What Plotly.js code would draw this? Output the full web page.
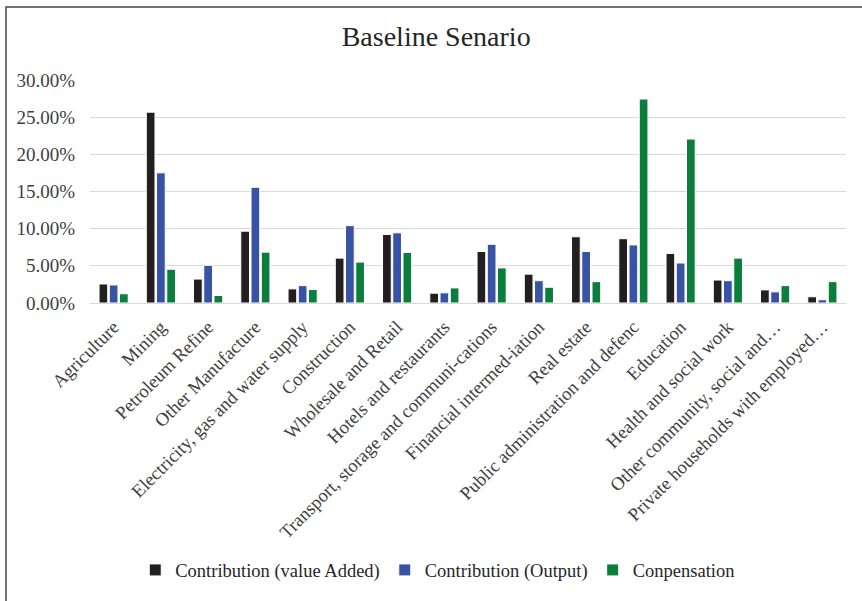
<!DOCTYPE html>
<html>
<head>
<meta charset="utf-8">
<script src="https://cdn.plot.ly/plotly-3.0.1.min.js"></script>
<style>html,body{margin:0;padding:0;background:#fff;}#chart{width:862px;height:601px;}</style>
</head>
<body>
<div id="chart"></div>
<script>
const categories = [
  "Agriculture", "Mining", "Petroleum Refine", "Other Manufacture",
  "Electricity, gas and water supply", "Construction", "Wholesale and Retail",
  "Hotels and restaurants", "Transport, storage and communi-cations",
  "Financial intermed-iation", "Real estate", "Public administration and defenc",
  "Education", "Health and social work", "Other community, social and\u2026",
  "Private households with employed\u2026"
];
const valueAdded = [2.56, 25.67, 3.22, 9.66, 1.90, 6.04, 9.22, 1.32, 6.93, 3.88, 8.91, 8.65, 6.66, 3.09, 1.76, 0.84];
const output     = [2.43, 17.51, 5.07, 15.57, 2.34, 10.41, 9.44, 1.37, 7.90, 3.00, 6.93, 7.81, 5.38, 3.00, 1.50, 0.44];
const compensation = [1.24, 4.54, 1.01, 6.84, 1.81, 5.51, 6.79, 2.03, 4.72, 2.12, 2.87, 27.44, 22.06, 6.04, 2.34, 2.87];
const seriesNames = ["Contribution (value Added)", "Contribution (Output)", "Conpensation"];
const yTicks = [0, 5, 10, 15, 20, 25, 30];
const yTickLabels = ["0.00%", "5.00%", "10.00%", "15.00%", "20.00%", "25.00%", "30.00%"];

const colors = ["#231F20", "#3953A4", "#0B7E3C"];
const font = "'Liberation Serif'";
const data = [valueAdded, output, compensation].map((vals, i) => ({
  type: "bar",
  name: seriesNames[i],
  x: categories,
  y: vals,
  marker: {color: colors[i], line: {color: "#ffffff", width: 1}},
  hoverinfo: "x+y+name"
}));

const pw = 862 - 90 - 16, ph = 601 - 80 - 295;
const layout = {
  width: 862, height: 601,
  paper_bgcolor: "#fff", plot_bgcolor: "#fff",
  font: {family: font, color: "#404040", size: 18},
  title: {text: "Baseline Senario", font: {family: font, size: 28, color: "#262626"}, x: 0.506, xanchor: "center", y: 1 - 36 / 601, yanchor: "middle"},
  margin: {l: 90, r: 16, t: 80, b: 295},
  barmode: "group",
  bargap: 0.35,
  bargroupgap: 0.15,
  xaxis: {
    type: "category",
    tickangle: -45,
    tickfont: {family: font, size: 18.5, color: "#404040"},
    showgrid: false,
    showline: true, linecolor: "#d9d9d9", linewidth: 1,
    ticks: "", ticklabelstandoff: 5, automargin: false
  },
  yaxis: {
    range: [0, 30],
    tickvals: yTicks, ticktext: yTickLabels,
    tickfont: {family: font, size: 19, color: "#404040"},
    showgrid: true, gridcolor: "#d9d9d9", gridwidth: 1,
    zeroline: false, showline: false, ticks: "",
    ticklabelstandoff: 14, automargin: false
  },
  legend: {
    orientation: "h", x: 0.46, xanchor: "center", y: (306 - 577) / ph, yanchor: "middle",
    font: {family: font, size: 18.5, color: "#262626"},
    itemwidth: 30, tracegroupgap: 0
  },
  shapes: [{
    type: "rect", xref: "paper", yref: "paper",
    x0: (6 - 90) / pw, x1: (870 - 90) / pw, y0: (306 - 610) / ph, y1: (601 - 295 - 6) / ph,
    line: {color: "#444", width: 1.5},
    layer: "below"
  }],
  showlegend: true
};

Plotly.newPlot("chart", data, layout, {displayModeBar: false, staticPlot: true});
</script>
</body>
</html>
